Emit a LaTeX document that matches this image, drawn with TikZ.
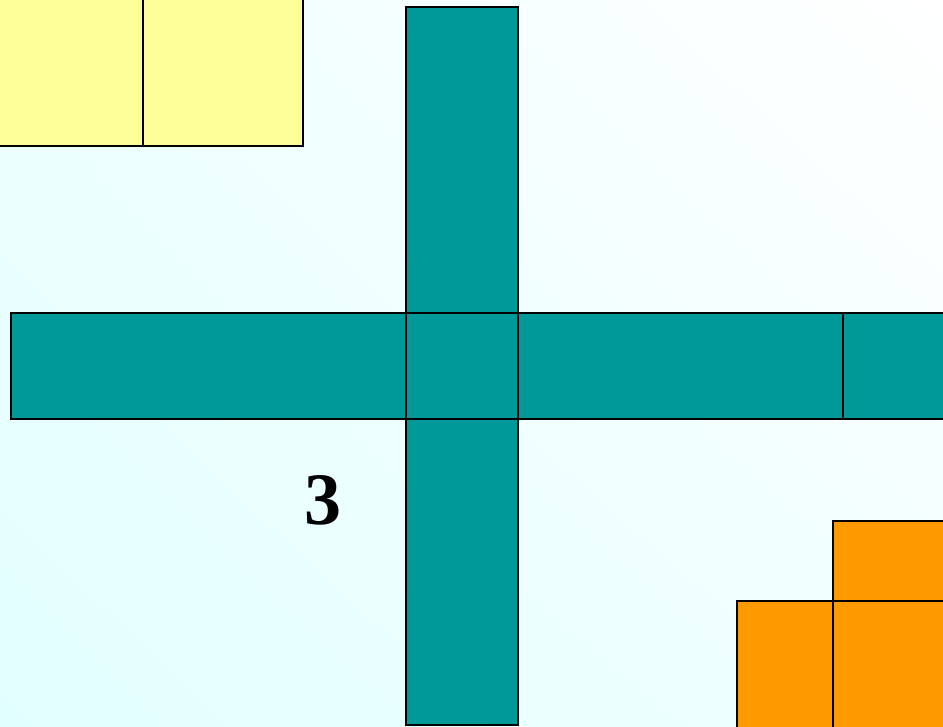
\documentclass[tikz,border=0pt]{standalone}
\usepackage{fontspec}
\setmainfont{Liberation Serif}
\usetikzlibrary{shadings}
\definecolor{teal1}{HTML}{009999}
\definecolor{orange1}{HTML}{FF9900}
\definecolor{yellow1}{HTML}{FFFF99}
\definecolor{bgc}{HTML}{E2FFFF}
\begin{document}
\begin{tikzpicture}[x=1pt,y=-1pt,
  tealsq/.style={fill=teal1,draw=black,line width=1.6pt},
  orsq/.style={fill=orange1,draw=black,line width=1.6pt},
  yelsq/.style={fill=yellow1,draw=black,line width=1.6pt}]
\useasboundingbox (0,0) rectangle (943,727);
\clip (0,0) rectangle (943,727);
\shade[upper left=bgc!60!white, upper right=white, lower left=bgc, lower right=bgc!50!white] (0,0) rectangle (943,727);
% yellow squares
\draw[yelsq] (-5,-5) rectangle (143,146);
\draw[yelsq] (143,-5) rectangle (303,146);
% teal cross
\draw[tealsq] (406,7) rectangle (518,313);
\draw[tealsq] (406,419) rectangle (518,725);
\draw[tealsq] (11,313) rectangle (406,419);
\draw[tealsq] (406,313) rectangle (518,419);
\draw[tealsq] (518,313) rectangle (843,419);
\draw[tealsq] (843,313) rectangle (955,419);
% orange squares
\draw[orsq] (833,521) rectangle (955,601);
\draw[orsq] (737,601) rectangle (833,740);
\draw[orsq] (833,601) rectangle (955,740);
% label
\node[font=\fontsize{74}{84}\selectfont\bfseries, inner sep=0pt] (lbl) at (323,500) {3};
\end{tikzpicture}
\end{document}
